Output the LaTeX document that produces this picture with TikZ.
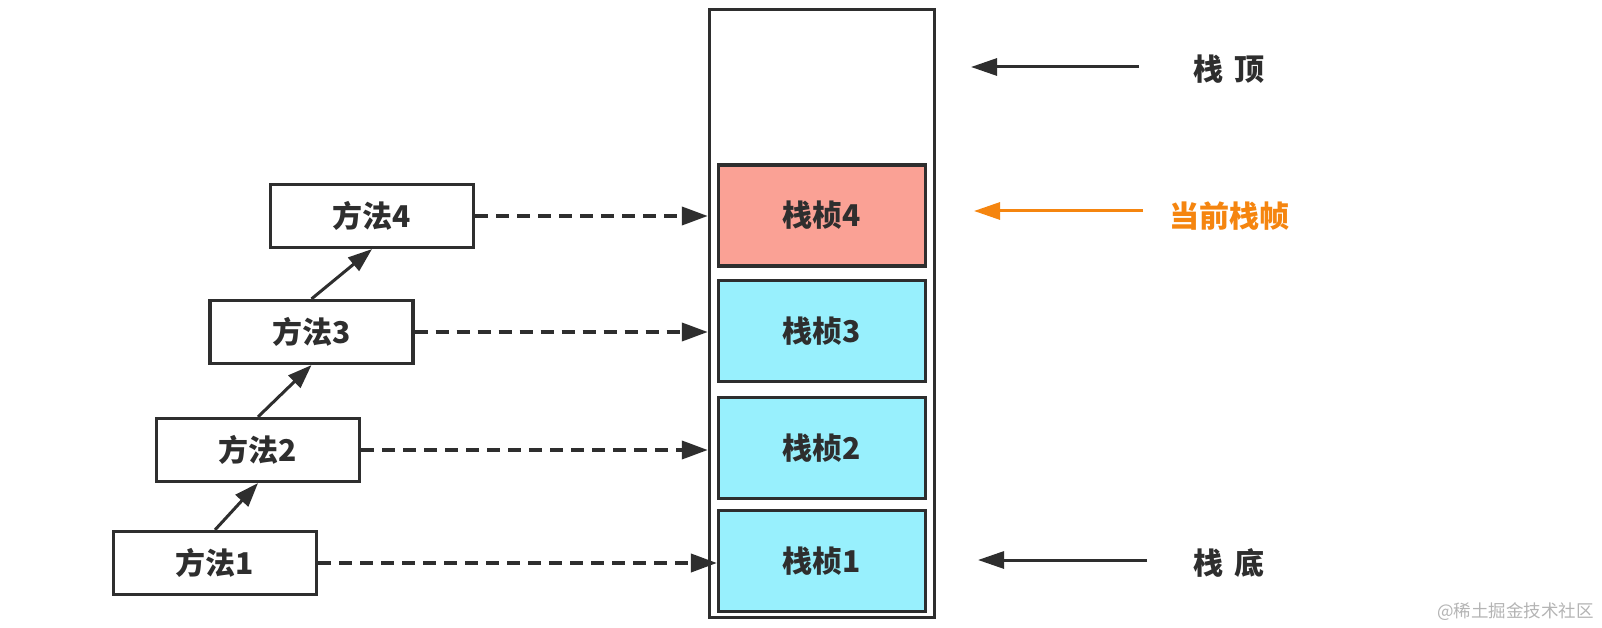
\documentclass[tikz,border=0pt]{standalone}
\usepackage{fontspec}
\newfontfamily\cjk{Noto Sans CJK SC}
\usetikzlibrary{arrows.meta}
\definecolor{ink}{HTML}{2E2E2E}
\definecolor{salmon}{HTML}{FAA195}
\definecolor{cyanfill}{HTML}{98F0FD}
\definecolor{orangec}{HTML}{F5850F}
\definecolor{wmark}{HTML}{B4B4B4}
\begin{document}
\begin{tikzpicture}[x=1pt,y=-1pt,
  meth/.style={draw=ink, line width=3.2pt, fill=white, minimum width=203pt, minimum height=63pt, inner sep=0pt, font=\cjk\bfseries\fontsize{30}{30}\selectfont, text=ink},
  frame/.style={draw=ink, line width=3.2pt, minimum width=207pt, minimum height=101pt, inner sep=0pt, font=\cjk\bfseries\fontsize{30}{30}\selectfont, text=ink},
  lab/.style={font=\cjk\bfseries\fontsize{30}{30}\selectfont, text=ink, inner sep=0pt},
  dasharrow/.style={draw=ink, line width=3.8pt, dash pattern=on 13pt off 8pt, -{Triangle[length=26pt,width=18pt]}},
  uparrow/.style={draw=ink, line width=3pt, -{Triangle[length=24pt,width=17pt]}},
  sidearrow/.style={line width=3pt, -{Triangle[length=26pt,width=17pt]}}
]
\useasboundingbox (0,0) rectangle (1602,628);
\fill[white] (0,0) rectangle (1602,628);

% stack
\node[draw=ink, line width=3.4pt, minimum width=225pt, minimum height=608pt, inner sep=0pt] (stack) at (822,313.5) {};
\node[frame, fill=salmon] (f4) at (822,215.5) {栈桢4};
\node[frame, fill=cyanfill] (f3) at (822,331) {栈桢3};
\node[frame, fill=cyanfill] (f2) at (822,448) {栈桢2};
\node[frame, fill=cyanfill] (f1) at (822,561) {栈桢1};

% methods
\node[meth] (m4) at (372,216) {方法4};
\node[meth] (m3) at (311.5,332) {方法3};
\node[meth] (m2) at (258,450) {方法2};
\node[meth] (m1) at (215,563) {方法1};

\draw[uparrow] (m1.north) -- (m2.south);
\draw[uparrow] (m2.north) -- (m3.south);
\draw[uparrow] (m3.north) -- (m4.south);

\draw[dasharrow] (m4.east) -- (stack.west |- m4.east);
\draw[dasharrow] (m3.east) -- (stack.west |- m3.east);
\draw[dasharrow] (m2.east) -- (stack.west |- m2.east);
\draw[dasharrow] (m1.east) -- (f1.west |- m1.east);

% right labels
\node[lab] (top) at (1229,69) {栈\hspace{0.34em}顶};
\node[lab, text=orangec] (cur) at (1229,216) {当前栈帧};
\node[lab] (bot) at (1229,563) {栈\hspace{0.34em}底};
\coordinate (topS) at (1139,67);
\coordinate (topE) at (971,67);
\coordinate (curS) at (1143,211);
\coordinate (curE) at (974,211);
\coordinate (botS) at (1147,560);
\coordinate (botE) at (978,560);
\draw[sidearrow, draw=ink] (topS) -- (topE);
\draw[sidearrow, draw=orangec] (curS) -- (curE);
\draw[sidearrow, draw=ink] (botS) -- (botE);

% watermark
\node[font=\cjk\fontsize{17.5}{17.5}\selectfont, text=wmark, anchor=east, inner sep=0pt] (wm) at (1594,612) {@稀土掘金技术社区};
\end{tikzpicture}
\end{document}
